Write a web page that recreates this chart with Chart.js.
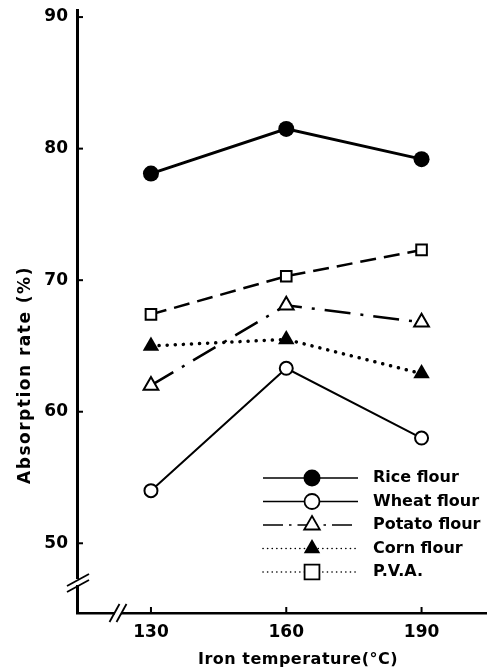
<!DOCTYPE html>
<html lang="en">
<head>
<meta charset="UTF-8">
<title>Absorption rate vs iron temperature</title>
<script src="https://cdn.jsdelivr.net/npm/chart.js"></script>
<style>
    body { margin: 0; background: #fff; }
    #wrap { width: 497px; height: 672px; }
</style>
</head>
<body>
<div id="wrap"><canvas id="chart" width="497" height="672"></canvas></div>
<script>
// data
const temperatures = [130, 160, 190];
const riceFlour = [78.1, 81.5, 79.2];
const wheatFlour = [54.0, 63.3, 58.0];
const potatoFlour = [62.0, 68.1, 66.8];
const cornFlour = [65.0, 65.5, 62.9];
const pva = [67.4, 70.3, 72.3];
const seriesNames = ['Rice flour', 'Wheat flour', 'Potato flour', 'Corn flour', 'P.V.A.'];
const xTicks = [130, 160, 190];
const yTicks = [50, 60, 70, 80, 90];
const xTitle = 'Iron temperature(°C)';
const yTitle = 'Absorption rate (%)';

const FONT = '"DejaVu Sans", sans-serif';

function pts(values) {
    return temperatures.map((t, i) => ({ x: t, y: values[i] }));
}

// draws inward ticks, axis breaks, titles and the line+marker legend
const paperPlugin = {
    id: 'paper',
    afterDraw(chart) {
        const ctx = chart.ctx;
        const xs = chart.scales.x, ys = chart.scales.y;
        const a = chart.chartArea;
        ctx.save();
        ctx.strokeStyle = '#000';
        ctx.fillStyle = '#000';

        // inward tick marks
        ctx.lineWidth = 2;
        ctx.setLineDash([]);
        yTicks.forEach(v => {
            const py = ys.getPixelForValue(v);
            ctx.beginPath(); ctx.moveTo(a.left, py); ctx.lineTo(a.left + 6, py); ctx.stroke();
        });
        xTicks.forEach(v => {
            const px = xs.getPixelForValue(v);
            ctx.beginPath(); ctx.moveTo(px, a.bottom); ctx.lineTo(px, a.bottom - 6); ctx.stroke();
        });

        // y axis break
        const by = a.bottom - 31;
        ctx.fillStyle = '#fff';
        ctx.fillRect(a.left - 3, by - 3, 7, 6);
        ctx.fillStyle = '#000';
        ctx.lineWidth = 1.8;
        [-3, 3].forEach(o => {
            ctx.beginPath(); ctx.moveTo(a.left - 10, by + 7 + o); ctx.lineTo(a.left + 12, by - 5 + o); ctx.stroke();
        });
        // x axis break
        const bx = a.left + 41;
        ctx.fillStyle = '#fff';
        ctx.fillRect(bx - 3, a.bottom - 3, 6, 6);
        ctx.fillStyle = '#000';
        [-3.5, 3.5].forEach(o => {
            ctx.beginPath(); ctx.moveTo(bx + o - 5, a.bottom + 9); ctx.lineTo(bx + o + 5, a.bottom - 9); ctx.stroke();
        });

        // axis titles
        ctx.textAlign = 'center';
        ctx.textBaseline = 'middle';
        ctx.font = 'bold 16px ' + FONT;
        ctx.letterSpacing = '0.5px';
        ctx.fillText(xTitle, 298, 660);
        ctx.save();
        ctx.font = 'bold 17px ' + FONT;
        ctx.letterSpacing = '1.5px';
        ctx.translate(26, 375);
        ctx.rotate(-Math.PI / 2);
        ctx.fillText(yTitle, 0, 0);
        ctx.restore();
        ctx.letterSpacing = '0px';

        // legend
        const x0 = 263, x1 = 358, mx = 312, tx = 373;
        chart.data.datasets.forEach((ds, i) => {
            const y = 478 + i * 23.5;
            ctx.lineWidth = 1.6;
            ctx.lineCap = ds.legendCap || 'butt';
            ctx.setLineDash(ds.legendDash);
            ctx.beginPath(); ctx.moveTo(x0, y); ctx.lineTo(x1, y); ctx.stroke();
            ctx.setLineDash([]);
            ctx.lineCap = 'butt';
            ctx.fillStyle = ds.pointBackgroundColor;
            ctx.strokeStyle = '#000';
            ctx.lineWidth = 1.8;
            Chart.helpers.drawPoint(ctx, {
                pointStyle: ds.pointStyle, radius: ds.legendRadius, rotation: 0,
                borderWidth: ds.pointBorderWidth
            }, mx, y);
            ctx.fillStyle = '#000';
            ctx.textAlign = 'left';
            ctx.font = 'bold 16px ' + FONT;
            ctx.fillText(ds.label, tx, y);
        });
        ctx.restore();
    }
};

const ctx = document.getElementById('chart').getContext('2d');
new Chart(ctx, {
    type: 'line',
    data: {
        datasets: [
            {
                label: seriesNames[0], data: pts(riceFlour),
                borderColor: '#000', borderWidth: 3,
                pointStyle: 'circle', pointRadius: 8, pointBackgroundColor: '#000',
                pointBorderColor: '#000', pointBorderWidth: 0,
                legendDash: [], legendRadius: 8.5
            },
            {
                label: seriesNames[1], data: pts(wheatFlour),
                borderColor: '#000', borderWidth: 2,
                pointStyle: 'circle', pointRadius: 6.5, pointBackgroundColor: '#fff',
                pointBorderColor: '#000', pointBorderWidth: 2,
                legendDash: [], legendRadius: 7.5
            },
            {
                label: seriesNames[2], data: pts(potatoFlour),
                borderColor: '#000', borderWidth: 2.5, borderDash: [26, 10, 3, 10],
                pointStyle: 'triangle', pointRadius: 8.5, pointBackgroundColor: '#fff',
                pointBorderColor: '#000', pointBorderWidth: 2,
                legendDash: [20, 6, 2.5, 6], legendRadius: 9
            },
            {
                label: seriesNames[3], data: pts(cornFlour),
                borderColor: '#000', borderWidth: 3.5, borderDash: [0.1, 8], borderCapStyle: 'round',
                pointStyle: 'triangle', pointRadius: 9.5, pointBackgroundColor: '#000',
                pointBorderColor: '#000', pointBorderWidth: 0,
                legendDash: [0.1, 4.5], legendCap: 'round', legendRadius: 9.5
            },
            {
                label: seriesNames[4], data: pts(pva),
                borderColor: '#000', borderWidth: 2.5, borderDash: [16, 8],
                pointStyle: 'rect', pointRadius: 7.5, pointBackgroundColor: '#fff',
                pointBorderColor: '#000', pointBorderWidth: 2,
                legendDash: [0.1, 4.5], legendCap: 'round', legendRadius: 10.5
            }
        ]
    },
    options: {
        responsive: false,
        animation: false,
        events: [],
        layout: { padding: { top: 8, right: 4, bottom: 0, left: 0 } },
        plugins: { legend: { display: false }, tooltip: { enabled: false } },
        scales: {
            x: {
                type: 'linear', min: 113.6, max: 204.4,
                afterBuildTicks: s => { s.ticks = xTicks.map(v => ({ value: v })); },
                afterFit: s => { s.height = 59; s.paddingLeft = 0; s.paddingRight = 0; },
                grid: { display: false, drawTicks: false },
                border: { display: true, color: '#000', width: 2.5 },
                ticks: { padding: 9, color: '#000', font: { family: FONT, size: 17, weight: 'bold' } }
            },
            y: {
                type: 'linear', min: 44.7, max: 90.5,
                afterBuildTicks: s => { s.ticks = yTicks.map(v => ({ value: v })); },
                afterFit: s => { s.width = 77; s.paddingTop = 0; s.paddingBottom = 0; },
                grid: { display: false, drawTicks: false },
                border: { display: true, color: '#000', width: 3 },
                ticks: { padding: 9, color: '#000', font: { family: FONT, size: 17, weight: 'bold' } }
            }
        }
    },
    plugins: [paperPlugin]
});
</script>
</body>
</html>
